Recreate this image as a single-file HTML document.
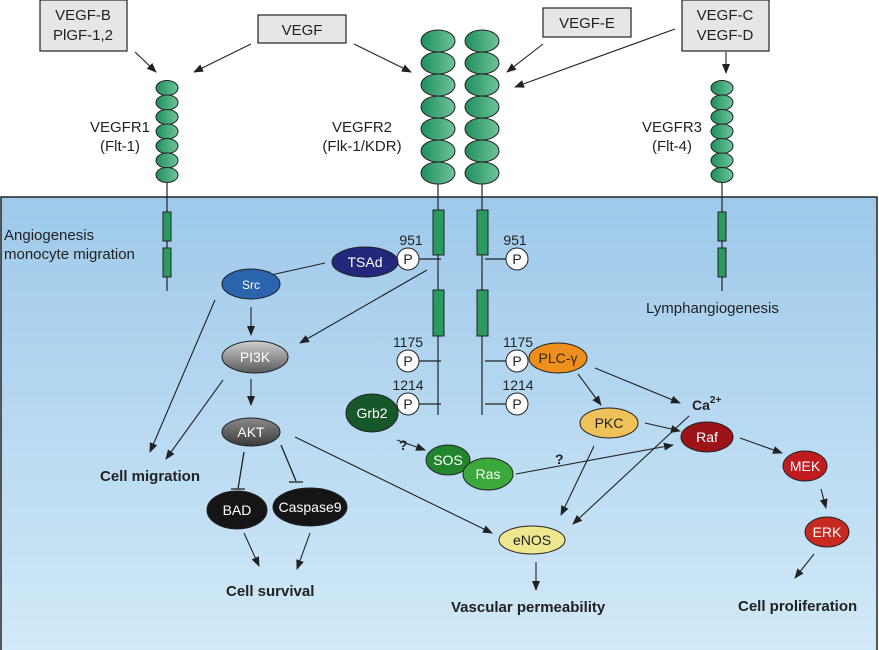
<!DOCTYPE html>
<html><head><meta charset="utf-8"><style>
html,body{margin:0;padding:0;background:#fff;}
svg{display:block;font-family:"Liberation Sans",sans-serif;}
</style></head><body>
<svg width="879" height="650" viewBox="0 0 879 650" xmlns="http://www.w3.org/2000/svg">
<defs>
<linearGradient id="bg" x1="0" y1="0" x2="0" y2="1"><stop offset="0" stop-color="#9ec9ea"/><stop offset="1" stop-color="#d2eaf8"/></linearGradient>
<linearGradient id="gr" x1="0" y1="0" x2="1" y2="0"><stop offset="0" stop-color="#1e8f5c"/><stop offset="1" stop-color="#6fc49a"/></linearGradient>
<linearGradient id="pi" x1="0" y1="0" x2="0" y2="1"><stop offset="0" stop-color="#d0d0d0"/><stop offset="1" stop-color="#5a5a5a"/></linearGradient>
<linearGradient id="ak" x1="0" y1="0" x2="0" y2="1"><stop offset="0" stop-color="#8a8a8a"/><stop offset="1" stop-color="#3a3a3a"/></linearGradient>
<marker id="a" markerWidth="10" markerHeight="8" refX="9" refY="4" orient="auto" markerUnits="userSpaceOnUse"><path d="M0,0 L10,4 L0,8 z" fill="#222"/></marker>
</defs>
<rect x="1" y="197" width="876" height="460" fill="url(#bg)" stroke="#222" stroke-width="1.5"/>

<g stroke="#222" stroke-width="1.2" fill="none">
<line x1="167" y1="180" x2="167" y2="291"/>
<line x1="438" y1="180" x2="438" y2="415"/>
<line x1="482" y1="180" x2="482" y2="415"/>
<line x1="722" y1="180" x2="722" y2="291"/>
</g>
<g fill="url(#gr)" stroke="#222" stroke-width="1">
<ellipse cx="167" cy="88" rx="11" ry="7.5"/><ellipse cx="167" cy="102.5" rx="11" ry="7.5"/><ellipse cx="167" cy="117" rx="11" ry="7.5"/><ellipse cx="167" cy="131.5" rx="11" ry="7.5"/><ellipse cx="167" cy="146" rx="11" ry="7.5"/><ellipse cx="167" cy="160.5" rx="11" ry="7.5"/><ellipse cx="167" cy="175" rx="11" ry="7.5"/>
<ellipse cx="722" cy="88" rx="11" ry="7.5"/><ellipse cx="722" cy="102.5" rx="11" ry="7.5"/><ellipse cx="722" cy="117" rx="11" ry="7.5"/><ellipse cx="722" cy="131.5" rx="11" ry="7.5"/><ellipse cx="722" cy="146" rx="11" ry="7.5"/><ellipse cx="722" cy="160.5" rx="11" ry="7.5"/><ellipse cx="722" cy="175" rx="11" ry="7.5"/>
<ellipse cx="438" cy="41" rx="17" ry="11"/><ellipse cx="438" cy="63" rx="17" ry="11"/><ellipse cx="438" cy="85" rx="17" ry="11"/><ellipse cx="438" cy="107" rx="17" ry="11"/><ellipse cx="438" cy="129" rx="17" ry="11"/><ellipse cx="438" cy="151" rx="17" ry="11"/><ellipse cx="438" cy="173" rx="17" ry="11"/>
<ellipse cx="482" cy="41" rx="17" ry="11"/><ellipse cx="482" cy="63" rx="17" ry="11"/><ellipse cx="482" cy="85" rx="17" ry="11"/><ellipse cx="482" cy="107" rx="17" ry="11"/><ellipse cx="482" cy="129" rx="17" ry="11"/><ellipse cx="482" cy="151" rx="17" ry="11"/><ellipse cx="482" cy="173" rx="17" ry="11"/>
</g>
<g fill="#2a9a5e" stroke="#222" stroke-width="1">
<rect x="163" y="212" width="8" height="29"/><rect x="163" y="248" width="8" height="29"/>
<rect x="718" y="212" width="8" height="29"/><rect x="718" y="248" width="8" height="29"/>
<rect x="433" y="210" width="11" height="45"/><rect x="433" y="290" width="11" height="46"/>
<rect x="477" y="210" width="11" height="45"/><rect x="477" y="290" width="11" height="46"/>
</g>

<g fill="#e6e6e6" stroke="#222" stroke-width="1.2">
<rect x="40" y="0" width="87" height="51"/>
<rect x="258" y="15" width="88" height="28"/>
<rect x="543" y="8" width="88" height="29"/>
<rect x="682" y="0" width="87" height="51"/>
</g>
<g font-size="15" fill="#222" text-anchor="middle">
<text x="83" y="20">VEGF-B</text><text x="83" y="40">PlGF-1,2</text>
<text x="302" y="35">VEGF</text>
<text x="587" y="28">VEGF-E</text>
<text x="725" y="20">VEGF-C</text><text x="725" y="40">VEGF-D</text>
<text x="120" y="132">VEGFR1</text><text x="120" y="151">(Flt-1)</text>
<text x="362" y="132">VEGFR2</text><text x="362" y="151">(Flk-1/KDR)</text>
<text x="672" y="132">VEGFR3</text><text x="672" y="151">(Flt-4)</text>
</g>

<g stroke="#222" stroke-width="1.1" fill="none" marker-end="url(#a)">
<line x1="135" y1="52" x2="156" y2="72"/>
<line x1="251" y1="44" x2="194" y2="72"/>
<line x1="354" y1="44" x2="411" y2="72"/>
<line x1="543" y1="44" x2="507" y2="72"/>
<line x1="675" y1="29" x2="515" y2="87"/>
<line x1="726" y1="52" x2="726" y2="73"/>
<line x1="325" y1="263" x2="262" y2="277"/>
<line x1="427" y1="270" x2="300" y2="343"/>
<line x1="251" y1="307" x2="251" y2="335"/>
<line x1="215" y1="300" x2="150" y2="452"/>
<line x1="223" y1="380" x2="166" y2="459"/>
<line x1="251" y1="379" x2="251" y2="405"/>
<line x1="295" y1="437" x2="492" y2="533"/>
<line x1="244" y1="533" x2="259" y2="566"/>
<line x1="310" y1="533" x2="297" y2="569"/>
<line x1="397" y1="440" x2="425" y2="450"/>
<line x1="578" y1="374" x2="601" y2="405"/>
<line x1="595" y1="368" x2="680" y2="403"/>
<line x1="645" y1="423" x2="680" y2="431"/>
<line x1="689" y1="416" x2="573" y2="524"/>
<line x1="594" y1="446" x2="561" y2="515"/>
<line x1="516" y1="474" x2="673" y2="445"/>
<line x1="740" y1="438" x2="782" y2="453"/>
<line x1="821" y1="489" x2="826" y2="508"/>
<line x1="814" y1="554" x2="795" y2="578"/>
<line x1="536" y1="562" x2="536" y2="590"/>
</g>
<g stroke="#222" stroke-width="1.3" fill="none">
<line x1="244" y1="452" x2="238" y2="489"/><line x1="231" y1="489" x2="245" y2="489"/>
<line x1="281" y1="445" x2="296" y2="481"/><line x1="289" y1="482" x2="303" y2="482"/>
<line x1="419" y1="259" x2="441" y2="259"/>
<line x1="485" y1="259" x2="506" y2="259"/>
<line x1="419" y1="361" x2="441" y2="361"/>
<line x1="485" y1="361" x2="506" y2="361"/>
<line x1="419" y1="404" x2="441" y2="404"/>
<line x1="485" y1="404" x2="506" y2="404"/>
</g>

<g fill="#fff" stroke="#222" stroke-width="1">
<circle cx="408" cy="259" r="11"/><circle cx="517" cy="259" r="11"/>
<circle cx="408" cy="361" r="11"/><circle cx="517" cy="361" r="11"/>
<circle cx="408" cy="404" r="11"/><circle cx="517" cy="404" r="11"/>
</g>
<g font-size="14" fill="#222" text-anchor="middle">
<text x="408" y="264">P</text><text x="517" y="264">P</text>
<text x="408" y="366">P</text><text x="517" y="366">P</text>
<text x="408" y="409">P</text><text x="517" y="409">P</text>
<text x="411" y="245">951</text><text x="515" y="245">951</text>
<text x="408" y="347">1175</text><text x="518" y="347">1175</text>
<text x="408" y="390">1214</text><text x="518" y="390">1214</text>
</g>

<g stroke="#222" stroke-width="1">
<ellipse cx="365" cy="262" rx="33" ry="15" fill="#23287a"/>
<ellipse cx="251" cy="284" rx="29" ry="15" fill="#2a64ad"/>
<ellipse cx="255" cy="357" rx="33" ry="16" fill="url(#pi)"/>
<ellipse cx="251" cy="432" rx="29" ry="14" fill="url(#ak)"/>
<ellipse cx="237" cy="510" rx="30" ry="19" fill="#151515"/>
<ellipse cx="310" cy="507" rx="37" ry="19" fill="#151515"/>
<ellipse cx="372" cy="413" rx="26" ry="19" fill="#17582a"/>
<ellipse cx="448" cy="460" rx="22" ry="15" fill="#22862f"/>
<ellipse cx="488" cy="474" rx="25" ry="16" fill="#3aa83a"/>
<ellipse cx="558" cy="358" rx="29" ry="15" fill="#ec8f1c"/>
<ellipse cx="609" cy="423" rx="29" ry="15" fill="#eec258"/>
<ellipse cx="707" cy="437" rx="26" ry="15" fill="#9c1418"/>
<ellipse cx="805" cy="466" rx="22" ry="15" fill="#c01c20"/>
<ellipse cx="827" cy="532" rx="22" ry="15" fill="#c62a20"/>
<ellipse cx="532" cy="540" rx="33" ry="14" fill="#eee78e"/>
</g>
<g font-size="14" text-anchor="middle" fill="#fff">
<text x="365" y="267">TSAd</text>
<text x="251" y="289" font-size="12">Src</text>
<text x="255" y="362">PI3K</text>
<text x="251" y="437">AKT</text>
<text x="237" y="515">BAD</text>
<text x="310" y="512">Caspase9</text>
<text x="372" y="418">Grb2</text>
<text x="448" y="465">SOS</text>
<text x="488" y="479">Ras</text>
<text x="707" y="442">Raf</text>
<text x="805" y="471">MEK</text>
<text x="827" y="537">ERK</text>
</g>
<g font-size="14" text-anchor="middle" fill="#222">
<text x="558" y="363" fill="#3a2a10">PLC-γ</text>
<text x="609" y="428">PKC</text>
<text x="532" y="545">eNOS</text>
</g>
<text x="692" y="410" font-size="14" font-weight="bold" fill="#222">Ca<tspan font-size="10" dy="-7">2+</tspan></text>
<g font-size="14" font-weight="bold" fill="#222">
<text x="399" y="450">?</text><text x="555" y="464">?</text>
</g>

<g font-size="15" fill="#222">
<text x="4" y="240">Angiogenesis</text>
<text x="4" y="259">monocyte migration</text>
<text x="646" y="313">Lymphangiogenesis</text>
</g>
<g font-size="15" font-weight="bold" fill="#222">
<text x="100" y="481">Cell migration</text>
<text x="226" y="596">Cell survival</text>
<text x="451" y="612">Vascular permeability</text>
<text x="738" y="611">Cell proliferation</text>
</g>
</svg>
</body></html>
